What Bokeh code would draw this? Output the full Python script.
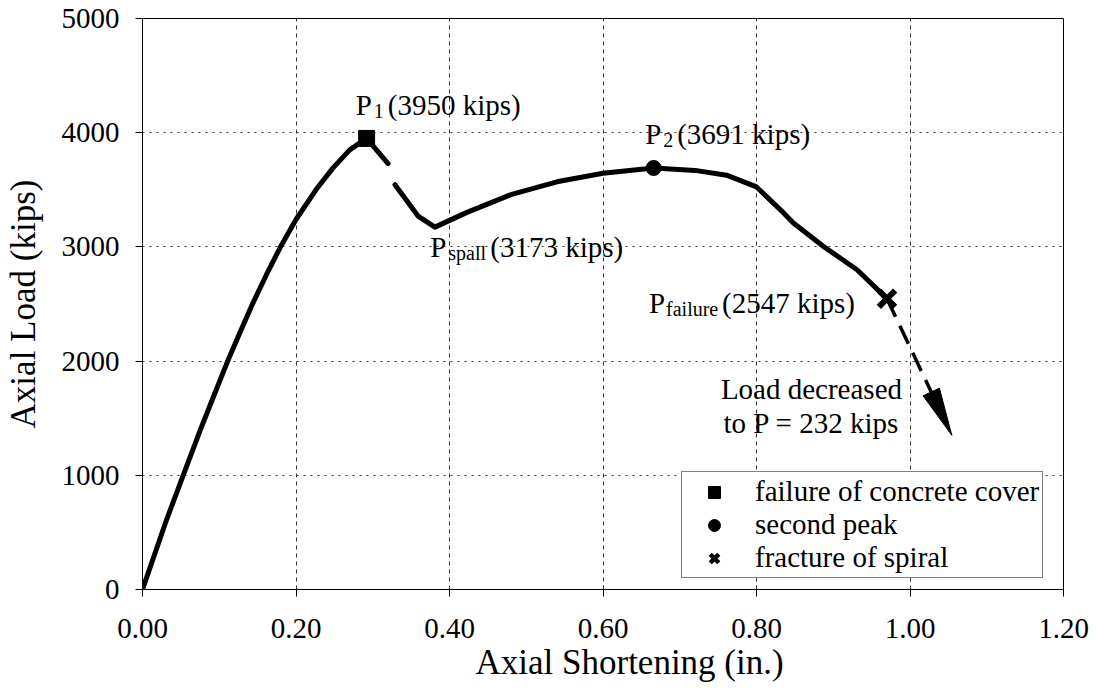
import math
from bokeh.plotting import figure
from bokeh.models import Label, Title, Legend, LegendItem, FixedTicker, PrintfTickFormatter
from bokeh.embed import file_html
from bokeh.resources import INLINE

# ---------------- data ----------------
# loading branch up to first peak (solid)
shortening_1 = [0.000, 0.031, 0.053, 0.075, 0.094, 0.111, 0.127, 0.144, 0.161, 0.179,
                0.200, 0.226, 0.248, 0.270, 0.292, 0.320]
load_1 = [0, 604, 1000, 1392, 1714, 2000, 2250, 2510, 2750, 2990,
          3240, 3500, 3690, 3850, 3950, 3730]
# post-spalling branch
shortening_2 = [0.329, 0.359, 0.381, 0.422, 0.481, 0.540, 0.600, 0.666, 0.720, 0.761,
                0.800, 0.835, 0.848, 0.887, 0.931, 0.970]
load_2 = [3545, 3270, 3173, 3300, 3460, 3570, 3645, 3691, 3670, 3628,
          3525, 3300, 3210, 3005, 2800, 2547]

p1_point = (0.292, 3950)      # failure of concrete cover
p2_point = (0.666, 3691)      # second peak
pf_point = (0.970, 2547)      # fracture of spiral
arrow_tip = (1.0545, 1350)    # load decreased to 232 kips

x_ticks = [0.0, 0.2, 0.4, 0.6, 0.8, 1.0, 1.2]
y_ticks = [0, 1000, 2000, 3000, 4000, 5000]

legend_labels = ["failure of concrete cover", "second peak", "fracture of spiral"]

# point labels: anchor x, baseline y, subscript, rest, subscript dx, rest dx (px)
point_labels = [
    (0.278, 4242, "1", "(3950 kips)", 18, 32),
    (0.655, 3990, "2", "(3691 kips)", 18, 32),
    (0.375, 2995, "spall", "(3173 kips)", 18, 60),
    (0.660, 2505, "failure", "(2547 kips)", 17, 73),
]
note_x = 0.8716
note_lines = [("Load decreased", 1760), ("to P = 232 kips", 1454)]

# ---------------- figure ----------------
FONT = "Liberation Serif"
FRAME_W, FRAME_H = 921, 571
X_MAX, Y_MAX = 1.2, 5000
PX_X = FRAME_W / X_MAX      # px per inch
PX_Y = FRAME_H / Y_MAX      # px per kip

p = figure(frame_width=FRAME_W, frame_height=FRAME_H, x_range=(0, X_MAX), y_range=(0, Y_MAX),
           output_backend="svg", toolbar_location=None,
           min_border_left=139, min_border_right=32, min_border_top=18, min_border_bottom=99)
p.background_fill_color = "white"
p.outline_line_color = "black"
p.outline_line_width = 1

for ax in (p.xaxis[0], p.yaxis[0]):
    ax.axis_line_color = "black"
    ax.major_tick_line_color = "black"
    ax.major_tick_out = 7
    ax.major_tick_in = 0
    ax.minor_tick_line_color = None
    ax.major_label_text_font = FONT
    ax.major_label_text_font_size = "29px"
    ax.major_label_text_color = "black"

p.xaxis.ticker = FixedTicker(ticks=x_ticks)
p.xaxis.formatter = PrintfTickFormatter(format="%.2f")
p.xaxis.major_label_standoff = 22
p.yaxis.ticker = FixedTicker(ticks=y_ticks)
p.yaxis.major_label_standoff = 16

p.yaxis.axis_label = "Axial Load (kips)"
p.yaxis.axis_label_text_font = FONT
p.yaxis.axis_label_text_font_size = "35px"
p.yaxis.axis_label_text_font_style = "normal"
p.yaxis.axis_label_text_color = "black"
p.yaxis.axis_label_standoff = 16

p.add_layout(Title(text="Axial Shortening (in.)", align="left", offset=333,
                   text_font=FONT, text_font_size="35px", text_font_style="normal",
                   text_color="black", standoff=0), "below")

p.xgrid.grid_line_color = "#333333"
p.xgrid.grid_line_dash = "4 4"
p.ygrid.grid_line_color = "#333333"
p.ygrid.grid_line_dash = "2 5"
p.xgrid.ticker = FixedTicker(ticks=x_ticks)
p.ygrid.ticker = FixedTicker(ticks=y_ticks)

# curve
p.line(shortening_1, load_1, line_color="black", line_width=5, line_join="round", line_cap="round")
p.line(shortening_2, load_2, line_color="black", line_width=5, line_join="round", line_cap="round")

# arrow after spiral fracture
dxp = (arrow_tip[0] - pf_point[0]) * PX_X
dyp = (arrow_tip[1] - pf_point[1]) * PX_Y
L = math.hypot(dxp, dyp)
ux, uy = dxp / L, dyp / L
head_len, head_half = 48, 9
bx = arrow_tip[0] - ux * head_len / PX_X
by = arrow_tip[1] - uy * head_len / PX_Y
nx, ny = -uy, ux
p.line([pf_point[0], bx], [pf_point[1], by], line_color="black", line_width=3.5, line_dash="20 10")
p.patch([bx + nx * head_half / PX_X, arrow_tip[0], bx - nx * head_half / PX_X],
        [by + ny * head_half / PX_Y, arrow_tip[1], by - ny * head_half / PX_Y],
        fill_color="black", line_color="black", line_width=1)

# event markers (small ones used for legend are hidden beneath the big ones)
r_sq_leg = p.scatter([p1_point[0]], [p1_point[1]], marker="square", size=10, color="black")
r_ci_leg = p.scatter([p2_point[0]], [p2_point[1]], marker="circle", size=12, color="black")
r_x_leg = p.scatter([pf_point[0]], [pf_point[1]], marker="x", size=20, line_color="black", line_width=4.5)
p.scatter([p1_point[0]], [p1_point[1]], marker="square", size=16, color="black")
p.scatter([p2_point[0]], [p2_point[1]], marker="circle", size=15, color="black")
p.scatter([pf_point[0]], [pf_point[1]], marker="x", size=23, line_color="black", line_width=6)

# point labels
SUB_DROP = 6 / PX_Y
for (lx, ly, sub, rest, sdx, rdx) in point_labels:
    p.add_layout(Label(x=lx, y=ly, text="P", text_font=FONT, text_font_size="29px",
                       text_color="black", text_baseline="alphabetic"))
    p.add_layout(Label(x=lx, y=ly - SUB_DROP, x_offset=sdx, text=sub, text_font=FONT,
                       text_font_size="20px", text_color="black", text_baseline="alphabetic"))
    p.add_layout(Label(x=lx, y=ly, x_offset=rdx, text=rest, text_font=FONT, text_font_size="29px",
                       text_color="black", text_baseline="alphabetic"))

for (txt, ty) in note_lines:
    p.add_layout(Label(x=note_x, y=ty, text=txt, text_font=FONT, text_font_size="29px",
                       text_color="black", text_align="center", text_baseline="alphabetic"))

legend = Legend(items=[LegendItem(label=legend_labels[0], renderers=[r_sq_leg]),
                       LegendItem(label=legend_labels[1], renderers=[r_ci_leg]),
                       LegendItem(label=legend_labels[2], renderers=[r_x_leg])],
                location=(539, 11), margin=0, padding=3, spacing=0,
                glyph_width=58, glyph_height=30, label_height=30, label_standoff=12,
                label_text_font=FONT, label_text_font_size="29px", label_text_color="black",
                border_line_color="black", border_line_width=1,
                background_fill_color="white", background_fill_alpha=1.0)
p.add_layout(legend)

open("out.html", "w").write(file_html(p, INLINE))
